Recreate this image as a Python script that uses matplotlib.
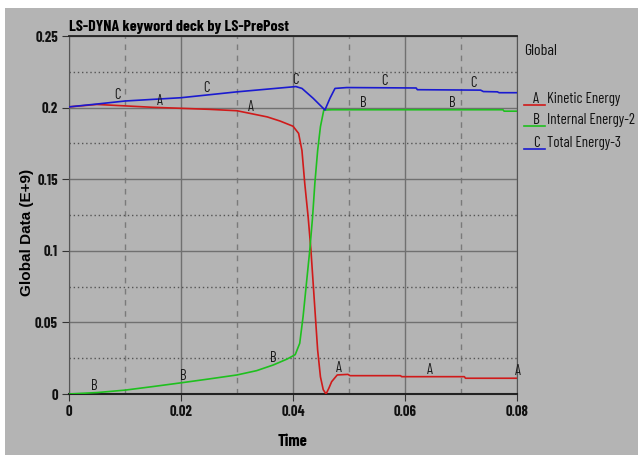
#!/usr/bin/env python3
"""
LS-PrePost style global energy plot
"""

import numpy as np
import matplotlib
matplotlib.use('Agg')
import matplotlib.pyplot as plt
import matplotlib.font_manager as fm
from matplotlib.patches import Rectangle
from matplotlib.lines import Line2D

# Kinetic energy (A)
ke_t = [0, 0.005, 0.01, 0.015, 0.02, 0.025, 0.03, 0.0354, 0.0377, 0.040, 0.041,
        0.0416, 0.0421, 0.0427, 0.0432, 0.0436, 0.0440, 0.0444, 0.0449, 0.0454,
        0.0459, 0.0464, 0.0469, 0.0479, 0.0498, 0.0502, 0.0592, 0.0594, 0.0706,
        0.0708, 0.08]
ke = [0.2005, 0.2022, 0.2012, 0.2002, 0.1995, 0.1988, 0.1978, 0.1935, 0.1906,
      0.187, 0.182, 0.170, 0.147, 0.1238, 0.1006, 0.0773, 0.054, 0.0307, 0.012,
      0.003, 0.0, 0.004, 0.0086, 0.0133, 0.0137, 0.0128, 0.0128, 0.0121, 0.0121,
      0.011, 0.011]

# Internal energy (B)
ie_t = [0, 0.005, 0.01, 0.015, 0.02, 0.025, 0.03, 0.0335, 0.0365, 0.039, 0.0404,
        0.0412, 0.0418, 0.0424, 0.0430, 0.0435, 0.0439, 0.0444, 0.0449, 0.0455,
        0.047, 0.0775, 0.0777, 0.08]
ie = [0, 0.001, 0.0027, 0.0052, 0.0078, 0.0105, 0.0133, 0.0163, 0.0203, 0.0245,
      0.0275, 0.0354, 0.054, 0.0773, 0.1006, 0.1238, 0.147, 0.170, 0.1867,
      0.1983, 0.1985, 0.1985, 0.1975, 0.1975]

# Total energy (C)
te_t = [0, 0.005, 0.01, 0.02, 0.03, 0.04, 0.0405, 0.0416, 0.0436, 0.0454, 0.0457,
        0.0466, 0.0475, 0.0496, 0.0620, 0.0622, 0.0735, 0.0740, 0.0765, 0.0768,
        0.08]
te = [0.2005, 0.2025, 0.2046, 0.2069, 0.211, 0.2145, 0.2147, 0.2134, 0.2065,
      0.1995, 0.1983, 0.2065, 0.2134, 0.214, 0.2137, 0.2125, 0.2122, 0.2112,
      0.211, 0.2104, 0.2104]

# where the curve letters sit
a_marks = [0.0162, 0.0325, 0.0482, 0.0645, 0.0802]
b_marks = [0.0045, 0.0204, 0.0364, 0.0525, 0.0684]
c_marks = [0.0086, 0.0245, 0.0404, 0.0563, 0.0723]

names = ['Kinetic Energy', 'Internal Energy-2', 'Total Energy-3']
letters = ['A', 'B', 'C']
colors = ['#d01a1a', '#1ec01e', '#1a1ad0']

BG = '#b4b4b4'

# narrow font, first one found
have = {f.name for f in fm.fontManager.ttflist}
NARROW = 'DejaVu Sans'
for cand in ['Liberation Sans Narrow', 'Arial Narrow', 'Barlow Condensed',
             'PT Sans Narrow', 'Asap Condensed', 'Fira Sans Condensed']:
    if cand in have:
        NARROW = cand
        break

W, H = 638, 455
fig = plt.figure(figsize=(W / 100, H / 100), dpi=100, facecolor='white')
fig.patches.append(Rectangle((5 / W, 0), 1, 1 - 8 / H, transform=fig.transFigure,
                             facecolor=BG, edgecolor='none', zorder=-10))

ax = fig.add_axes([69 / W, 1 - 394 / H, 448 / W, 358 / H])
ax.set_facecolor(BG)
ax.set_xlim(0, 0.08)
ax.set_ylim(0, 0.25)

ax.set_xticks([0, 0.02, 0.04, 0.06, 0.08])
ax.set_xticklabels(['0', '0.02', '0.04', '0.06', '0.08'])
ax.set_yticks([0, 0.05, 0.1, 0.15, 0.2, 0.25])
ax.set_yticklabels(['0', '0.05', '0.1', '0.15', '0.2', '0.25'])
ax.set_xticks([0.01, 0.03, 0.05, 0.07], minor=True)
ax.set_yticks([0.025, 0.075, 0.125, 0.175, 0.225], minor=True)

ax.grid(which='major', color='#707070', lw=1.0, ls='-')
ax.grid(which='minor', axis='x', color='#7a7a7a', lw=1.0, ls=(0, (4, 4)))
ax.grid(which='minor', axis='y', color='#555555', lw=1.0, ls=(0, (1, 2)))
ax.tick_params(which='minor', length=0)
ax.tick_params(which='major', direction='out', length=5, color='#333333', pad=3,
               labelsize=10.5)
for lab in ax.get_xticklabels() + ax.get_yticklabels():
    lab.set_family(NARROW)
    lab.set_fontweight('bold')
    lab.set_color('#111111')

for side in ['left', 'right']:
    ax.spines[side].set_color('#555555')
ax.spines['top'].set_color('#222222')
ax.spines['top'].set_linewidth(1.3)
ax.spines['bottom'].set_color('#222222')
ax.spines['bottom'].set_linewidth(1.5)
ax.set_axisbelow(True)

series = [(ke_t, ke, a_marks), (ie_t, ie, b_marks), (te_t, te, c_marks)]
for (t, v, marks), col, let in zip(series, colors, letters):
    ax.plot(t, v, color=col, lw=1.2, zorder=3)
    for m in marks:
        ax.text(m, np.interp(m, t, v), let, ha='center', va='bottom',
                color='#1a1a1a', zorder=4, clip_on=False, family=NARROW,
                fontsize=10.5)

ax.set_xlabel('Time', labelpad=11, family=NARROW, fontweight='bold', fontsize=12)
fig.text(27 / W, 1 - 232 / H, 'Global Data (E+9)', rotation=90, ha='center',
         va='center', fontsize=11, fontweight='bold', family='Liberation Sans')
fig.text(69 / W, 1 - 26.5 / H, 'LS-DYNA keyword deck by LS-PrePost', ha='left',
         va='center', family=NARROW, fontweight='bold', fontsize=11.5)

# legend on the right
glob = fig.text(524 / W, 1 - 51 / H, 'Global', ha='left', va='center',
                color='#111111', family=NARROW, fontsize=12)
rows = [99, 120, 143]
leg_txt = []
for y, let, name, col in zip(rows, letters, names, colors):
    leg_txt.append(fig.text(536 / W, 1 - y / H, let, ha='center', va='center',
                            color='#111111', family=NARROW, fontsize=11.5))
    leg_txt.append(fig.text(547 / W, 1 - y / H, name, ha='left', va='center',
                            color='#111111', family=NARROW, fontsize=11.5))
    fig.add_artist(Line2D([524 / W, 545 / W], [1 - (y + 6) / H, 1 - (y + 6) / H],
                          color=col, lw=1.2, transform=fig.transFigure))

# legend text sized to the widths measured on the reference
fig.canvas.draw()
r = fig.canvas.get_renderer()
glob.set_fontsize(12 * 33 / glob.get_window_extent(r).width)
f_leg = 73 / leg_txt[1].get_window_extent(r).width
for t in leg_txt:
    t.set_fontsize(11.5 * f_leg)

fig.savefig('out.png', dpi=100, facecolor=fig.get_facecolor())
